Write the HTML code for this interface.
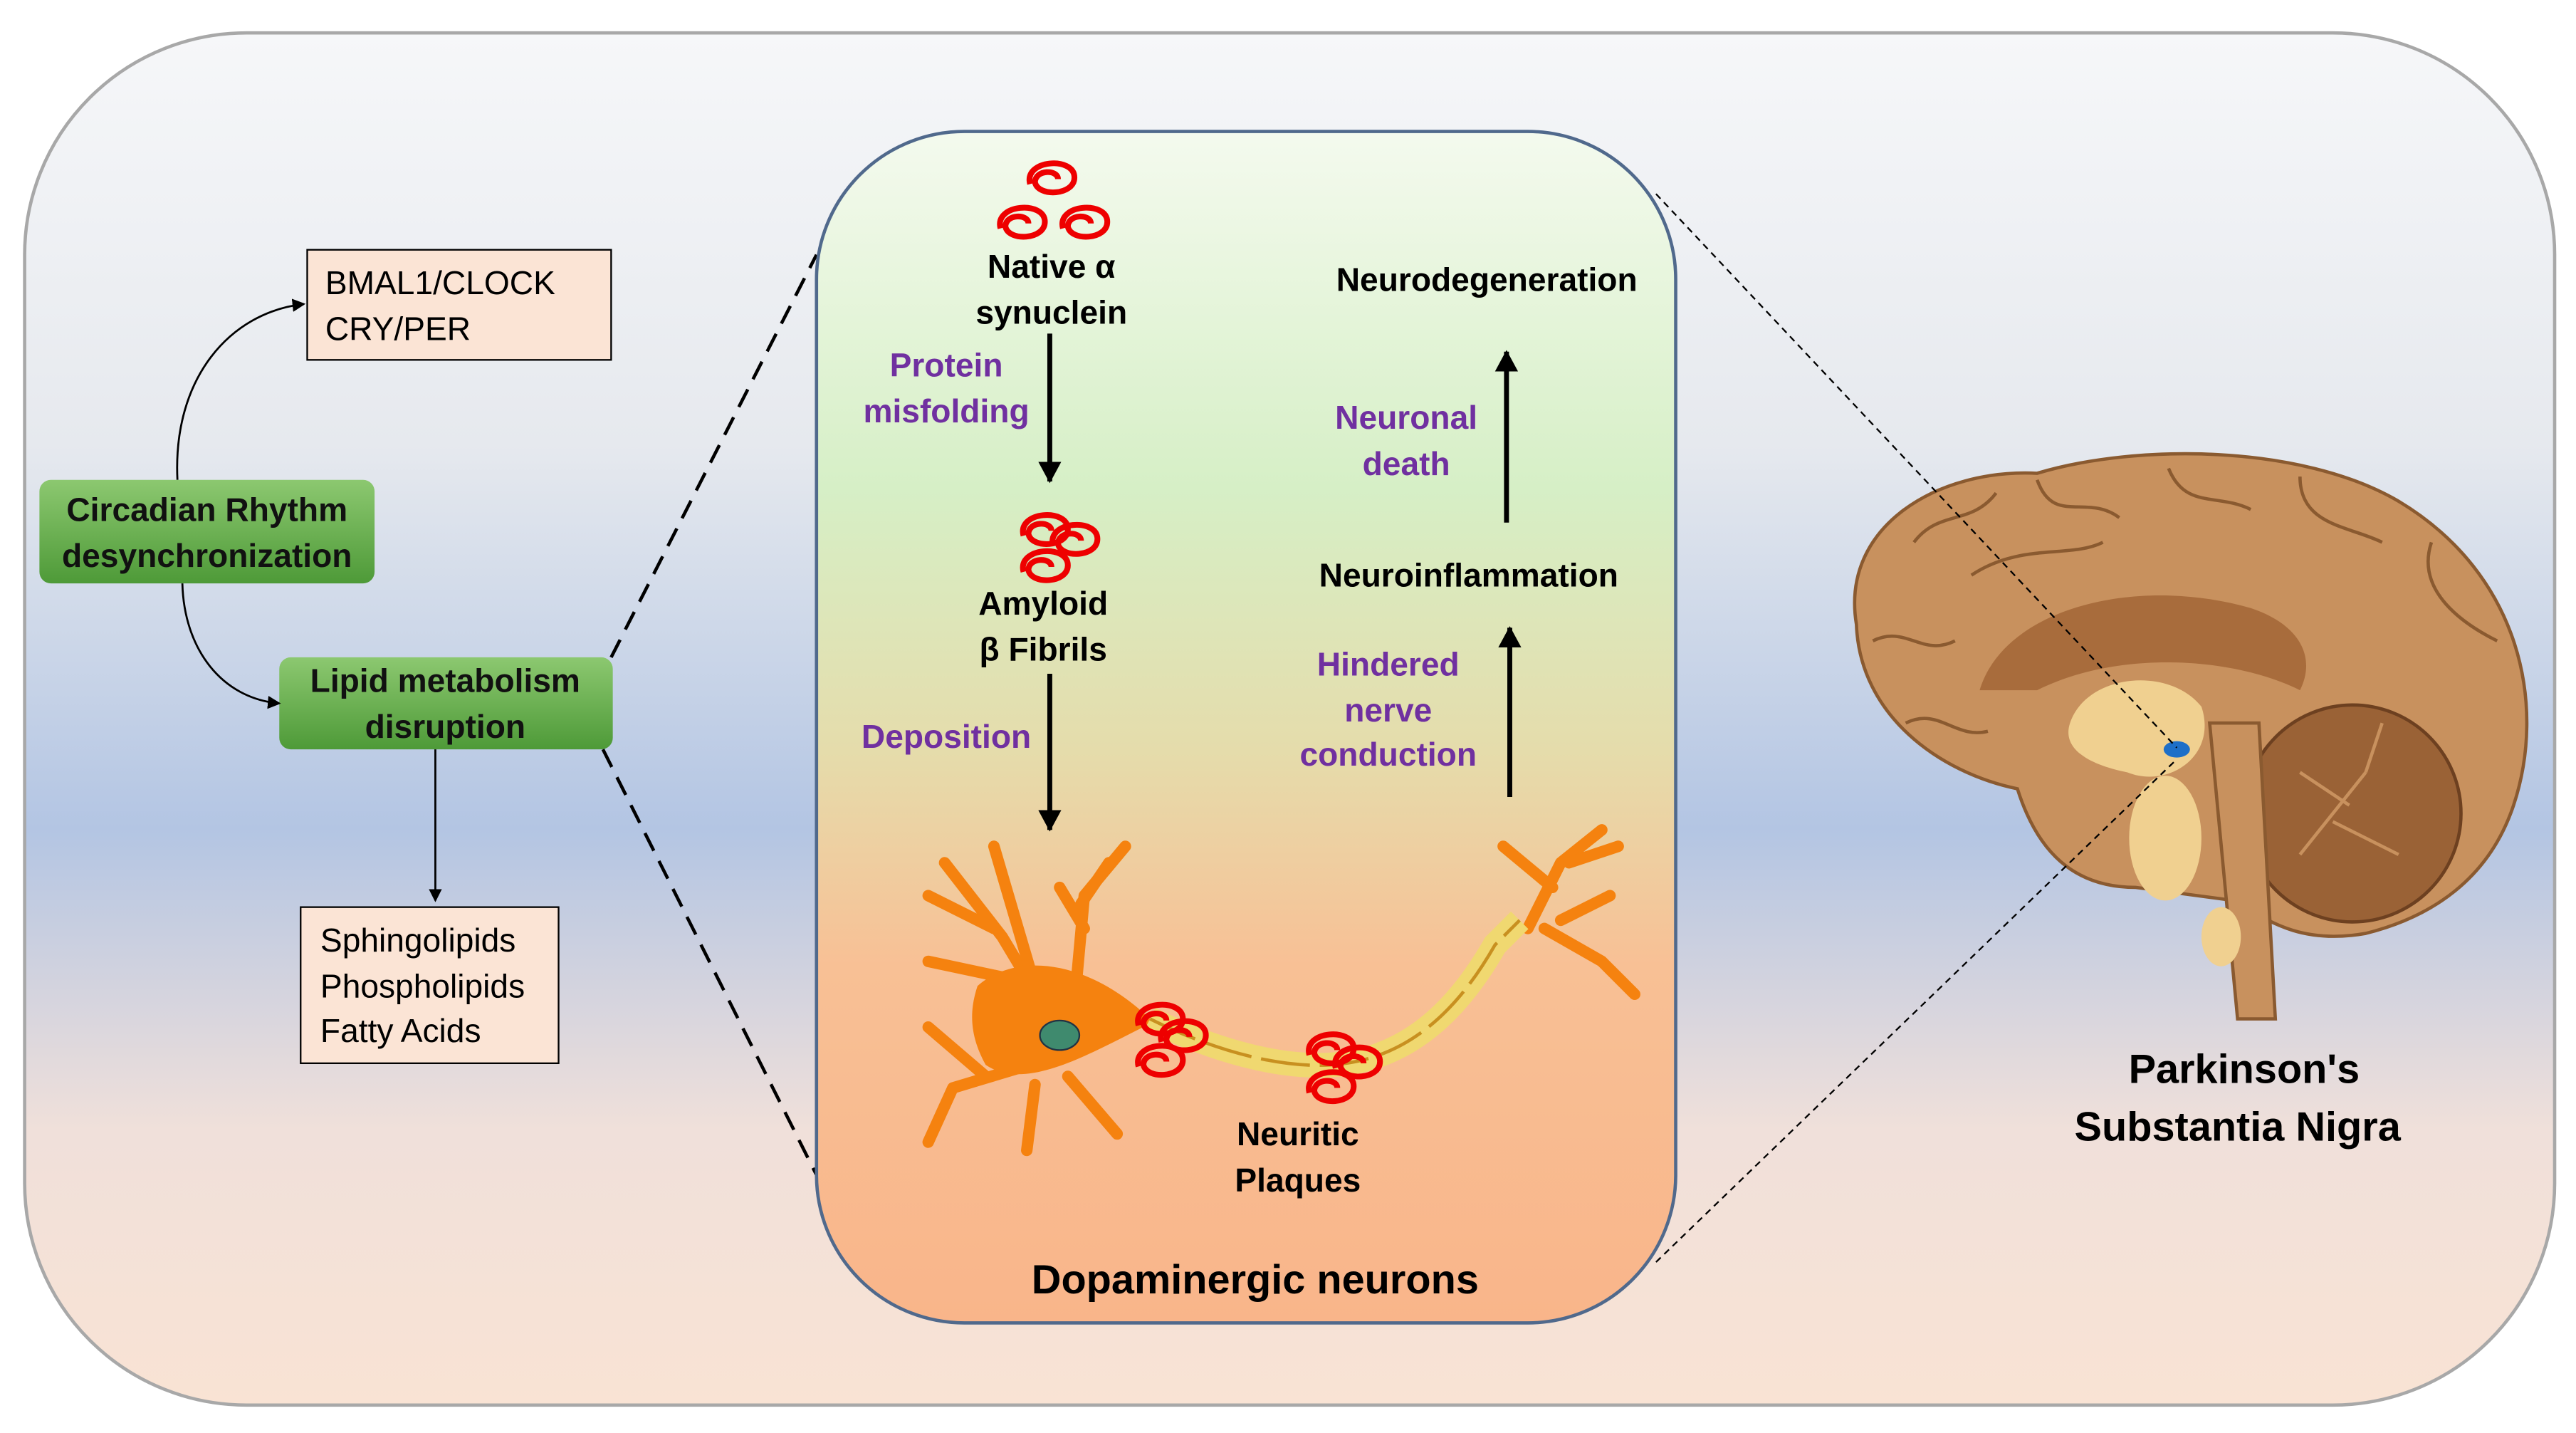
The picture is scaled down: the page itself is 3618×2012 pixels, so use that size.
<!DOCTYPE html>
<html><head><meta charset="utf-8"><style>
html,body{margin:0;padding:0;background:#fff}
svg{display:block}
text{font-family:"Liberation Sans",sans-serif}
.b{font-weight:bold}
</style></head><body>
<svg width="3618" height="2012" viewBox="0 0 1568 872" preserveAspectRatio="none" xmlns="http://www.w3.org/2000/svg">
<defs>
<linearGradient id="bg" x1="0" y1="0" x2="0" y2="1">
<stop offset="0" stop-color="#f6f7f9"/><stop offset="0.3" stop-color="#e6e9ee"/>
<stop offset="0.58" stop-color="#b3c5e3"/><stop offset="0.8" stop-color="#f0e0da"/><stop offset="1" stop-color="#f9e3d4"/>
</linearGradient>
<linearGradient id="pn" x1="0" y1="0" x2="0" y2="1">
<stop offset="0" stop-color="#f4faee"/><stop offset="0.3" stop-color="#d6efc6"/>
<stop offset="0.52" stop-color="#e5dcab"/><stop offset="0.7" stop-color="#f8c095"/><stop offset="1" stop-color="#f9b58a"/>
</linearGradient>
<linearGradient id="gr" x1="0" y1="0" x2="0" y2="1">
<stop offset="0" stop-color="#8cc870"/><stop offset="1" stop-color="#4e9a38"/>
</linearGradient>
<marker id="a" markerWidth="8" markerHeight="8" refX="7" refY="4" orient="auto" markerUnits="userSpaceOnUse"><path d="M0,0 L8,4 L0,8 z" fill="#000"/></marker>
<marker id="A" markerWidth="14" markerHeight="14" refX="12" refY="7" orient="auto" markerUnits="userSpaceOnUse"><path d="M0,0 L13,7 L0,14 z" fill="#000"/></marker>
<g id="sw"><path d="M-13,4 C-17,-11 14,-13 14,0 C14,11 -8,12 -10,3 C-10,-5 4,-5 4,1" fill="none" stroke="#e00" stroke-width="3.5"/></g>
</defs>
<rect x="15" y="20" width="1540" height="835" rx="135" fill="url(#bg)" stroke="#a8a8a8" stroke-width="2"/>
<rect x="187" y="152" width="185" height="67" fill="#fbe4d5" stroke="#000" stroke-width="1"/>
<text x="198" y="179" font-size="20">BMAL1/CLOCK</text><text x="198" y="207" font-size="20">CRY/PER</text>
<rect x="24" y="292" width="204" height="63" rx="7" fill="url(#gr)"/>
<text x="126" y="317" font-size="20" class="b" text-anchor="middle" fill="#111">Circadian Rhythm</text>
<text x="126" y="345" font-size="20" class="b" text-anchor="middle" fill="#111">desynchronization</text>
<rect x="170" y="400" width="203" height="56" rx="7" fill="url(#gr)"/>
<text x="271" y="421" font-size="20" class="b" text-anchor="middle" fill="#111">Lipid metabolism</text>
<text x="271" y="449" font-size="20" class="b" text-anchor="middle" fill="#111">disruption</text>
<rect x="183" y="552" width="157" height="95" fill="#fbe4d5" stroke="#000" stroke-width="1"/>
<text x="195" y="579" font-size="20">Sphingolipids</text><text x="195" y="607" font-size="20">Phospholipids</text><text x="195" y="634" font-size="20">Fatty Acids</text>
<path d="M108,292 C105,230 140,190 185,185" fill="none" stroke="#000" stroke-width="1.2" marker-end="url(#a)"/>
<path d="M111,355 C112,395 135,425 170,428" fill="none" stroke="#000" stroke-width="1.2" marker-end="url(#a)"/>
<line x1="265" y1="456" x2="265" y2="548" stroke="#000" stroke-width="1.2" marker-end="url(#a)"/>
<line x1="372" y1="400" x2="497" y2="155" stroke="#000" stroke-width="2" stroke-dasharray="12,7"/>
<line x1="367" y1="456" x2="497" y2="715" stroke="#000" stroke-width="2" stroke-dasharray="12,7"/>
<rect x="497" y="80" width="523" height="725" rx="90" fill="url(#pn)" stroke="#50698c" stroke-width="2"/>
<use href="#sw" x="640" y="108"/><use href="#sw" x="622" y="135"/><use href="#sw" x="660" y="135"/>
<use href="#sw" x="636" y="322"/><use href="#sw" x="654" y="328"/><use href="#sw" x="636" y="344"/>
<text x="640" y="169" font-size="20" class="b" text-anchor="middle">Native α</text>
<text x="640" y="197" font-size="20" class="b" text-anchor="middle">synuclein</text>
<text x="576" y="229" font-size="20" class="b" text-anchor="middle" fill="#7030a0">Protein</text>
<text x="576" y="257" font-size="20" class="b" text-anchor="middle" fill="#7030a0">misfolding</text>
<line x1="639" y1="203" x2="639" y2="293" stroke="#000" stroke-width="3" marker-end="url(#A)"/>
<text x="635" y="374" font-size="20" class="b" text-anchor="middle">Amyloid</text>
<text x="635" y="402" font-size="20" class="b" text-anchor="middle">β Fibrils</text>
<text x="576" y="455" font-size="20" class="b" text-anchor="middle" fill="#7030a0">Deposition</text>
<line x1="639" y1="410" x2="639" y2="505" stroke="#000" stroke-width="3" marker-end="url(#A)"/>
<text x="905" y="177" font-size="20" class="b" text-anchor="middle">Neurodegeneration</text>
<text x="856" y="261" font-size="20" class="b" text-anchor="middle" fill="#7030a0">Neuronal</text>
<text x="856" y="289" font-size="20" class="b" text-anchor="middle" fill="#7030a0">death</text>
<line x1="917" y1="318" x2="917" y2="214" stroke="#000" stroke-width="3" marker-end="url(#A)"/>
<text x="894" y="357" font-size="20" class="b" text-anchor="middle">Neuroinflammation</text>
<text x="845" y="411" font-size="20" class="b" text-anchor="middle" fill="#7030a0">Hindered</text>
<text x="845" y="439" font-size="20" class="b" text-anchor="middle" fill="#7030a0">nerve</text>
<text x="845" y="466" font-size="20" class="b" text-anchor="middle" fill="#7030a0">conduction</text>
<line x1="919" y1="485" x2="919" y2="382" stroke="#000" stroke-width="3" marker-end="url(#A)"/>
<g stroke="#f5820f" stroke-width="7" fill="none" stroke-linecap="round" stroke-linejoin="round">
<path d="M640,620 L610,570 L575,525"/><path d="M605,565 L565,545"/><path d="M612,595 L565,585"/><path d="M630,600 L605,515"/>
<path d="M655,600 L660,545 L685,515"/><path d="M660,565 L645,540"/><path d="M658,550 L675,525"/><path d="M620,650 L580,662 L565,695"/><path d="M600,655 L565,625"/>
<path d="M630,660 L625,700"/><path d="M650,655 L680,690"/>
<path d="M930,565 L950,525 L975,505"/><path d="M945,540 L915,515"/><path d="M955,525 L985,515"/>
<path d="M940,565 L975,585 L995,605"/><path d="M950,560 L980,545"/>
</g>
<path d="M595,600 C620,578 665,585 702,622 C665,640 625,665 600,648 C590,630 590,615 595,600 Z" fill="#f5820f"/>
<ellipse cx="645" cy="630" rx="12" ry="9" fill="#3f8a6e" stroke="#234" stroke-width="1"/>
<path d="M700,620 C740,640 780,650 810,648 C860,645 890,610 910,575 L925,560" fill="none" stroke="#f0d870" stroke-width="15"/>
<path d="M700,620 C740,640 780,650 810,648 C860,645 890,610 910,575 L925,560" fill="none" stroke="#c89020" stroke-width="2" stroke-dasharray="30,6"/>
<use href="#sw" x="706" y="620"/><use href="#sw" x="720" y="630"/><use href="#sw" x="706" y="645"/>
<use href="#sw" x="810" y="638"/><use href="#sw" x="826" y="646"/><use href="#sw" x="810" y="661"/>
<text x="790" y="697" font-size="20" class="b" text-anchor="middle">Neuritic</text>
<text x="790" y="725" font-size="20" class="b" text-anchor="middle">Plaques</text>
<text x="764" y="787" font-size="25" class="b" text-anchor="middle">Dopaminergic neurons</text>
<!-- brain -->
<path d="M1130,380 C1120,320 1180,285 1240,288 C1300,270 1400,270 1460,305 C1535,350 1550,430 1530,490 C1515,535 1480,558 1440,568 C1400,575 1380,560 1360,548 L1300,540 C1262,540 1240,518 1228,480 C1180,470 1132,435 1130,380 Z" fill="#c8915e" stroke="#8a5a30" stroke-width="2"/>
<g fill="none" stroke="#8a5a30" stroke-width="2">
<path d="M1165,330 C1180,310 1200,320 1215,300"/><path d="M1240,292 C1250,320 1270,300 1290,315"/><path d="M1320,285 C1330,310 1350,300 1370,310"/>
<path d="M1400,290 C1400,320 1430,320 1450,330"/><path d="M1480,330 C1470,360 1500,380 1520,390"/><path d="M1140,390 C1160,380 1170,400 1190,390"/>
<path d="M1160,440 C1180,430 1190,450 1210,445"/><path d="M1200,350 C1230,330 1260,340 1280,330"/>
</g>
<path d="M1205,420 C1220,370 1300,350 1370,370 C1400,380 1410,400 1400,420 C1360,400 1290,395 1240,420 Z" fill="#a86c3c"/>
<path d="M1260,440 C1270,410 1320,405 1340,430 C1350,460 1320,480 1295,470 C1270,465 1255,455 1260,440 Z" fill="#f0d090"/>
<circle cx="1432" cy="495" r="66" fill="#9a6236" stroke="#6d4020" stroke-width="2"/>
<g fill="none" stroke="#c8915e" stroke-width="2"><path d="M1400,520 L1440,470 M1420,500 L1460,520 M1440,470 L1450,440 M1430,490 L1400,470"/></g>
<path d="M1345,440 L1375,440 L1385,620 L1362,620 Z" fill="#c8915e" stroke="#8a5a30" stroke-width="2"/>
<ellipse cx="1318" cy="510" rx="22" ry="38" fill="#f0d090"/>
<ellipse cx="1352" cy="570" rx="12" ry="18" fill="#f0d090"/>
<ellipse cx="1325" cy="456" rx="8" ry="5" fill="#1e6fc8"/>
<line x1="1008" y1="118" x2="1325" y2="455" stroke="#000" stroke-width="1" stroke-dasharray="4,3"/>
<line x1="1008" y1="768" x2="1325" y2="462" stroke="#000" stroke-width="1" stroke-dasharray="4,3"/>
<text x="1366" y="659" font-size="25" class="b" text-anchor="middle">Parkinson's</text>
<text x="1362" y="694" font-size="25" class="b" text-anchor="middle">Substantia Nigra</text>
</svg>
</body></html>
